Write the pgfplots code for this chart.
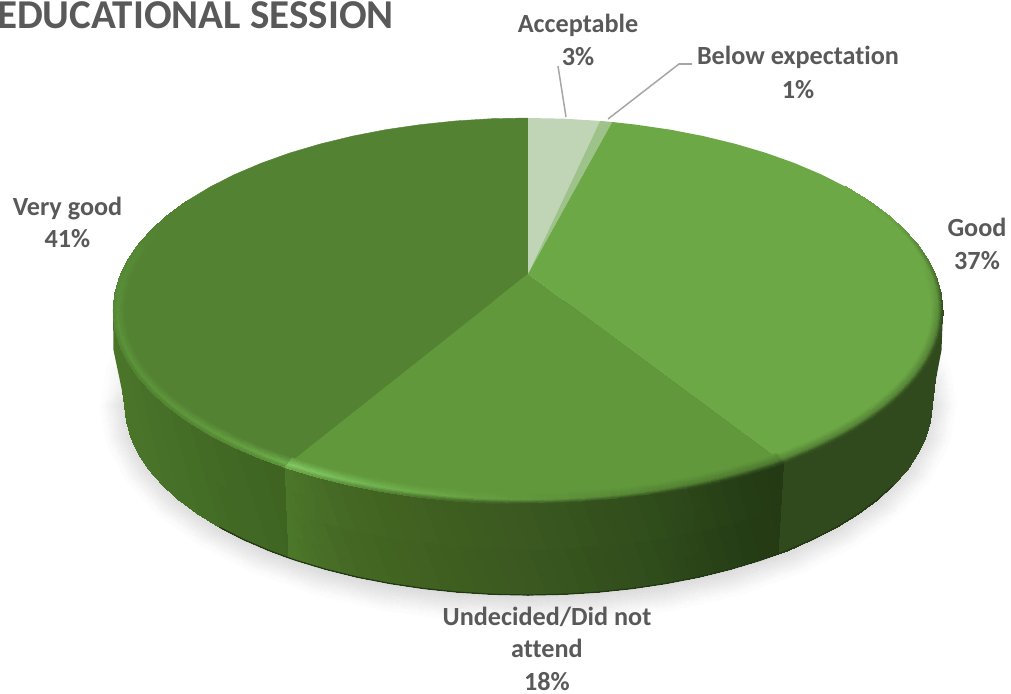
\documentclass[border=0pt]{standalone}
\usepackage{fontspec}
\setmainfont{Carlito}[Ligatures=NoCommon]
\usepackage{pgfplots}
\pgfplotsset{compat=1.18}
\definecolor{LabelGray}{HTML}{595959}
\definecolor{LeaderGray}{HTML}{A6A6A6}
\definecolor{TopGood}{RGB}{109,168,70}
\definecolor{TopUndecided}{RGB}{97,152,60}
\definecolor{TopVeryGood}{RGB}{83,130,50}
\definecolor{TopAcceptable}{RGB}{192,213,181}
\definecolor{TopBelow}{RGB}{157,194,138}
\tikzset{lbl/.style={font=\bfseries\fontsize{26.2}{30}\selectfont,text=LabelGray,inner sep=0pt,anchor=base}}
\pgfplotsset{band/.style={surf,shader=interp,mesh/color input=explicit}}

% picture is laid out in reference pixels, shares are 3 1 37 18 41 percent
\begin{document}
\begin{tikzpicture}
\useasboundingbox (0,0) rectangle (1011pt,693pt);
\clip (0,0) rectangle (1011pt,693pt);
\begin{axis}[
  at={(0,0)},anchor=south west,
  scale only axis,width=1011pt,height=693pt,
  xmin=0,xmax=1011,ymin=0,ymax=693,y dir=reverse,
  axis lines=none,clip=false
]
% soft shadow
\addplot[band,mesh/rows=2] table[meta=c]{
x y c
870.1 312 rgb255=255,255,255
899.2 341.4 rgb255=242,242,242
917 372.7 rgb255=228,228,228
923 405 rgb255=212,212,212
917 437.3 rgb255=212,212,212
899.2 468.6 rgb255=212,212,212
870.1 498 rgb255=212,212,212
830.6 524.6 rgb255=212,212,212
781.9 547.5 rgb255=212,212,212
725.5 566.1 rgb255=212,212,212
663.1 579.8 rgb255=212,212,212
596.6 588.2 rgb255=212,212,212
528 591 rgb255=212,212,212
459.4 588.2 rgb255=212,212,212
392.9 579.8 rgb255=212,212,212
330.5 566.1 rgb255=212,212,212
274.1 547.5 rgb255=212,212,212
225.4 524.6 rgb255=212,212,212
185.9 498 rgb255=212,212,212
156.8 468.6 rgb255=212,212,212
139 437.3 rgb255=212,212,212
133 405 rgb255=212,212,212
139 372.7 rgb255=228,228,228
156.8 341.4 rgb255=242,242,242
185.9 312 rgb255=255,255,255
898.7 296 rgb255=255,255,255
930.2 330.4 rgb255=255,255,255
949.5 367.1 rgb255=255,255,255
956 405 rgb255=255,255,255
949.5 442.9 rgb255=255,255,255
930.2 479.6 rgb255=255,255,255
898.7 514 rgb255=255,255,255
855.9 545.1 rgb255=255,255,255
803.1 572 rgb255=255,255,255
742 593.8 rgb255=255,255,255
674.4 609.9 rgb255=255,255,255
602.3 619.7 rgb255=255,255,255
528 623 rgb255=255,255,255
453.7 619.7 rgb255=255,255,255
381.6 609.9 rgb255=255,255,255
314 593.8 rgb255=255,255,255
252.9 572 rgb255=255,255,255
200.1 545.1 rgb255=255,255,255
157.3 514 rgb255=255,255,255
125.8 479.6 rgb255=255,255,255
106.5 442.9 rgb255=255,255,255
100 405 rgb255=255,255,255
106.5 367.1 rgb255=255,255,255
125.8 330.4 rgb255=255,255,255
157.3 296 rgb255=255,255,255
};
% backing under the wall, closes the seams between the meshes
\addplot[fill={rgb,255:red,58;green,88;blue,32},draw=none] coordinates {
(923,300)(923,405)(917,437.3)(899.2,468.6)(870.1,498)(830.6,524.6)(781.9,547.5)(725.5,566.1)(663.1,579.8)(596.6,588.2)(528,591)(459.4,588.2)(392.9,579.8)(330.5,566.1)(274.1,547.5)(225.4,524.6)(185.9,498)(156.8,468.6)(139,437.3)(133,405)(133,300)};
% corner gussets of the side wall
\addplot[fill={rgb,255:red,48;green,73;blue,29},draw=none] coordinates {(943,311)(941.5,350)(931,405)(900,405)};
\addplot[fill={rgb,255:red,74;green,117;blue,41},draw=none] coordinates {(113,311)(113.5,350)(125,405)(160,405)};
% side wall, Good
\addplot[band,mesh/rows=2] table[meta=c]{
x y c
943 311 rgb255=48,73,29
941.4 327.8 rgb255=48,73,29
936.7 344.5 rgb255=48,73,29
928.8 361 rgb255=48,73,29
918 377 rgb255=48,73,29
904.1 392.6 rgb255=48,73,29
887.4 407.5 rgb255=48,73,29
868 421.7 rgb255=48,73,29
845.9 435.1 rgb255=48,73,29
821.4 447.5 rgb255=48,73,29
794.8 458.8 rgb255=48,73,29
783.5 463.1 rgb255=48,73,29
931 405 rgb255=48,73,29
929.5 421.6 rgb255=48,73,29
924.9 438 rgb255=48,73,29
917.3 454.2 rgb255=48,73,29
906.7 470 rgb255=48,73,29
893.2 485.3 rgb255=48,73,29
877 500 rgb255=48,73,29
858.1 514 rgb255=48,73,29
836.7 527.1 rgb255=48,73,29
813 539.3 rgb255=48,73,29
787 550.5 rgb255=48,73,29
778 554 rgb255=48,73,29
};
% side wall, Undecided
\addplot[band,mesh/rows=2] table[meta=c]{
x y c
783.5 463.1 rgb255=35,58,20
766 469.1 rgb255=36,59,20
735.5 478.1 rgb255=39,63,22
703.4 485.9 rgb255=42,68,24
669.9 492.4 rgb255=46,74,27
635.4 497.4 rgb255=49,78,28
600 501.1 rgb255=52,81,29
564.2 503.3 rgb255=55,85,30
528 504 rgb255=58,88,32
491.8 503.3 rgb255=60,91,32
456 501.1 rgb255=62,94,32
420.6 497.4 rgb255=64,97,33
386.1 492.4 rgb255=66,100,33
352.6 485.9 rgb255=68,104,36
320.5 478.1 rgb255=71,109,38
290 469.1 rgb255=75,117,41
284.1 467.1 rgb255=76,119,42
778 554 rgb255=35,58,20
759.2 560.6 rgb255=36,59,20
729.5 569.5 rgb255=39,63,22
698.3 577.2 rgb255=42,68,24
665.8 583.5 rgb255=46,74,27
632.3 588.5 rgb255=49,78,28
598 592.1 rgb255=52,81,29
563.1 594.3 rgb255=55,85,30
528 595 rgb255=58,88,32
492.9 594.3 rgb255=60,91,32
458 592.1 rgb255=62,94,32
423.7 588.5 rgb255=64,97,33
390.2 583.5 rgb255=66,100,33
357.7 577.2 rgb255=68,104,36
326.5 569.5 rgb255=71,109,38
296.8 560.6 rgb255=75,117,41
288 557.6 rgb255=76,119,42
};
% side wall, Very good
\addplot[band,mesh/rows=2] table[meta=c]{
x y c
284.1 467.1 rgb255=63,100,34
261.2 458.8 rgb255=64,102,35
234.6 447.5 rgb255=65,104,36
210.1 435.1 rgb255=67,107,37
188 421.7 rgb255=68,109,38
168.6 407.5 rgb255=70,111,39
151.9 392.6 rgb255=71,113,40
138 377 rgb255=72,115,40
127.2 361 rgb255=73,116,41
119.3 344.5 rgb255=74,117,41
114.6 327.8 rgb255=74,117,41
113 311 rgb255=74,117,41
288 557.6 rgb255=63,100,34
269 550.5 rgb255=64,102,35
243 539.3 rgb255=65,104,36
219.3 527.1 rgb255=67,107,37
197.9 514 rgb255=68,109,38
179 500 rgb255=70,111,39
162.8 485.3 rgb255=71,113,40
149.3 470 rgb255=72,115,40
138.7 454.2 rgb255=73,116,41
131.1 438 rgb255=74,117,41
126.5 421.6 rgb255=74,117,41
125 405 rgb255=74,117,41
};
% dark foot of the wall
\addplot[draw={rgb,255:red,34;green,56;blue,20},line width=1.2pt] coordinates {
(893.2,485.3)(877,500)(858.1,514)(836.7,527.1)(813,539.3)(787,550.5)(778,554)(759.2,560.6)(729.5,569.5)(698.3,577.2)(665.8,583.5)(632.3,588.5)(598,592.1)(563.1,594.3)(528,595)(492.9,594.3)(458,592.1)(423.7,588.5)(390.2,583.5)(357.7,577.2)(326.5,569.5)(296.8,560.6)(288,557.6)(269,550.5)(243,539.3)(219.3,527.1)};
% top faces
\addplot[fill=TopVeryGood,draw=TopVeryGood,line width=.4pt] coordinates {
(528,274)(284.1,467.1)(261.2,458.8)(234.6,447.5)(210.1,435.1)(188,421.7)(168.6,407.5)(151.9,392.6)(138,377)(127.2,361)(119.3,344.5)(114.6,327.8)(113,311)(114.6,294.2)(119.3,277.5)(127.2,261)(138,245)(151.9,229.4)(168.6,214.5)(188,200.3)(210.1,186.9)(234.6,174.5)(261.2,163.2)(290,152.9)(320.5,143.9)(352.6,136.1)(386.1,129.6)(420.6,124.6)(456,120.9)(491.8,118.7)(528,118)};
\addplot[fill=TopAcceptable,draw=none] coordinates {
(528,274)(528,118)(564.2,118.7)(600,120.9)};
\addplot[fill=TopBelow,draw=none] coordinates {
(528,274)(600,120.9)(612.2,122)};
\addplot[fill=TopGood,draw=none] coordinates {
(528,274)(612.2,122)(635.4,124.6)(669.9,129.6)(703.4,136.1)(735.5,143.9)(766,152.9)(794.8,163.2)(821.4,174.5)(845.9,186.9)(868,200.3)(887.4,214.5)(904.1,229.4)(918,245)(928.8,261)(936.7,277.5)(941.4,294.2)(943,311)(941.4,327.8)(936.7,344.5)(928.8,361)(918,377)(904.1,392.6)(887.4,407.5)(868,421.7)(845.9,435.1)(821.4,447.5)(794.8,458.8)(783.5,463.1)};
\addplot[fill=TopUndecided,draw=none] coordinates {
(528,274)(783.5,463.1)(766,469.1)(735.5,478.1)(703.4,485.9)(669.9,492.4)(635.4,497.4)(600,501.1)(564.2,503.3)(528,504)(491.8,503.3)(456,501.1)(420.6,497.4)(386.1,492.4)(352.6,485.9)(320.5,478.1)(290,469.1)(284.1,467.1)};
% rim, Good
\addplot[band,mesh/rows=3] table[meta=c]{
x y c
836.7 194.7 rgb255=109,168,70
858.1 207.2 rgb255=109,168,70
877 220.5 rgb255=109,168,70
893.2 234.5 rgb255=109,168,70
906.7 249.1 rgb255=109,168,70
917.3 264.2 rgb255=109,168,70
924.9 279.6 rgb255=109,168,70
929.5 295.2 rgb255=109,168,70
931 311 rgb255=109,168,70
929.5 326.8 rgb255=109,168,70
924.9 342.4 rgb255=109,168,70
917.3 357.8 rgb255=109,168,70
906.7 372.9 rgb255=109,168,70
893.2 387.5 rgb255=109,168,70
877 401.5 rgb255=109,168,70
858.1 414.8 rgb255=109,168,70
836.7 427.3 rgb255=109,168,70
813 439 rgb255=109,168,70
787 449.6 rgb255=109,168,70
776.1 453.6 rgb255=109,168,70
842.8 189.5 rgb255=109,168,70
864.7 202.6 rgb255=109,168,70
883.9 216.5 rgb255=109,168,70
900.5 231.1 rgb255=109,168,70
914.2 246.4 rgb255=109,168,70
925 262.1 rgb255=106,163,68
932.8 278.2 rgb255=100,155,64
937.4 294.5 rgb255=95,148,60
939 311 rgb255=90,140,58
937.4 327.5 rgb255=86,134,55
932.8 343.8 rgb255=85,132,54
925 359.9 rgb255=85,132,54
914.2 375.6 rgb255=85,132,54
900.5 390.9 rgb255=85,132,54
883.9 405.5 rgb255=85,132,54
864.7 419.4 rgb255=85,132,54
842.8 432.5 rgb255=85,132,54
818.6 444.6 rgb255=85,132,54
792.2 455.8 rgb255=85,132,54
781.1 459.9 rgb255=85,132,54
845.9 186.9 rgb255=107,165,69
868 200.3 rgb255=105,162,68
887.4 214.5 rgb255=102,158,66
904.1 229.4 rgb255=97,150,62
918 245 rgb255=90,138,57
928.8 261 rgb255=82,126,52
936.7 277.5 rgb255=72,112,46
941.4 294.2 rgb255=60,92,37
943 311 rgb255=50,76,30
941.4 327.8 rgb255=50,76,30
936.7 344.5 rgb255=50,76,30
928.8 361 rgb255=50,76,30
918 377 rgb255=50,76,30
904.1 392.6 rgb255=50,76,30
887.4 407.5 rgb255=50,76,30
868 421.7 rgb255=50,76,30
845.9 435.1 rgb255=50,76,30
821.4 447.5 rgb255=50,76,30
794.8 458.8 rgb255=50,76,30
783.5 463.1 rgb255=50,76,30
};
% rim, Undecided
\addplot[band,mesh/rows=3] table[meta=c]{
x y c
776.1 453.6 rgb255=97,152,60
759.2 459.3 rgb255=97,152,60
729.5 467.7 rgb255=97,152,60
698.3 475 rgb255=97,152,60
665.8 481.1 rgb255=97,152,60
632.3 485.8 rgb255=97,152,60
598 489.3 rgb255=97,152,60
563.1 491.3 rgb255=97,152,60
528 492 rgb255=97,152,60
492.9 491.3 rgb255=97,152,60
458 489.3 rgb255=97,152,60
423.7 485.8 rgb255=97,152,60
390.2 481.1 rgb255=97,152,60
357.7 475 rgb255=97,152,60
326.5 467.7 rgb255=97,152,60
296.8 459.3 rgb255=97,152,60
291.1 457.4 rgb255=97,152,60
781.1 459.9 rgb255=78,122,48
763.7 465.8 rgb255=78,122,48
733.5 474.7 rgb255=80,125,49
701.7 482.3 rgb255=82,128,50
668.6 488.6 rgb255=84,131,51
634.4 493.6 rgb255=87,136,53
599.3 497.1 rgb255=90,140,55
563.8 499.3 rgb255=93,146,58
528 500 rgb255=97,152,62
492.2 499.3 rgb255=101,158,65
456.7 497.1 rgb255=105,165,68
421.6 493.6 rgb255=108,171,73
387.4 488.6 rgb255=112,178,78
354.3 482.3 rgb255=118,186,86
322.5 474.7 rgb255=125,195,95
292.3 465.8 rgb255=130,200,100
286.4 463.9 rgb255=130,200,100
783.5 463.1 rgb255=42,68,25
766 469.1 rgb255=42,68,25
735.5 478.1 rgb255=42,68,25
703.4 485.9 rgb255=44,70,26
669.9 492.4 rgb255=46,73,27
635.4 497.4 rgb255=48,75,28
600 501.1 rgb255=50,78,30
564.2 503.3 rgb255=54,83,32
528 504 rgb255=58,88,34
491.8 503.3 rgb255=64,96,37
456 501.1 rgb255=70,105,40
420.6 497.4 rgb255=77,117,46
386.1 492.4 rgb255=85,130,52
352.6 485.9 rgb255=92,142,58
320.5 478.1 rgb255=100,155,65
290 469.1 rgb255=108,168,74
284.1 467.1 rgb255=110,170,75
};
% rim, Very good
\addplot[band,mesh/rows=3] table[meta=c]{
x y c
291.1 457.4 rgb255=83,130,50
269 449.6 rgb255=83,130,50
243 439 rgb255=83,130,50
219.3 427.3 rgb255=83,130,50
197.9 414.8 rgb255=83,130,50
179 401.5 rgb255=83,130,50
162.8 387.5 rgb255=83,130,50
149.3 372.9 rgb255=83,130,50
138.7 357.8 rgb255=83,130,50
131.1 342.4 rgb255=83,130,50
126.5 326.8 rgb255=83,130,50
125 311 rgb255=83,130,50
126.5 295.2 rgb255=83,130,50
131.1 279.6 rgb255=83,130,50
138.7 264.2 rgb255=83,130,50
149.3 249.1 rgb255=83,130,50
162.8 234.5 rgb255=83,130,50
179 220.5 rgb255=83,130,50
197.9 207.2 rgb255=83,130,50
286.4 463.9 rgb255=110,175,75
263.8 455.8 rgb255=106,168,70
237.4 444.6 rgb255=100,160,65
213.2 432.5 rgb255=98,156,63
191.3 419.4 rgb255=96,153,61
172.1 405.5 rgb255=95,150,60
155.5 390.9 rgb255=94,149,59
141.8 375.6 rgb255=93,148,59
131 359.9 rgb255=92,148,58
123.2 343.8 rgb255=91,147,58
118.6 327.5 rgb255=91,146,57
117 311 rgb255=90,145,57
118.6 294.5 rgb255=89,143,56
123.2 278.2 rgb255=88,140,55
131 262.1 rgb255=87,138,54
141.8 246.4 rgb255=85,135,52
155.5 231.1 rgb255=84,132,51
172.1 216.5 rgb255=83,130,50
191.3 202.6 rgb255=83,130,50
284.1 467.1 rgb255=90,145,60
261.2 458.8 rgb255=88,140,56
234.6 447.5 rgb255=85,135,52
210.1 435.1 rgb255=83,133,50
188 421.7 rgb255=82,131,49
168.6 407.5 rgb255=80,130,48
151.9 392.6 rgb255=80,130,48
138 377 rgb255=80,130,48
127.2 361 rgb255=80,130,48
119.3 344.5 rgb255=82,132,50
114.6 327.8 rgb255=84,134,51
113 311 rgb255=85,135,52
114.6 294.2 rgb255=85,135,52
119.3 277.5 rgb255=85,135,52
127.2 261 rgb255=85,134,51
138 245 rgb255=84,132,50
151.9 229.4 rgb255=84,131,50
168.6 214.5 rgb255=83,130,50
188 200.3 rgb255=83,130,50
};
% leader lines
\addplot[draw=LeaderGray,line width=1.5pt] coordinates {(558,66)(566,117)};
\addplot[draw=LeaderGray,line width=1.5pt] coordinates {(692,64)(679,64)(608,119)};
% labels, placed on their baselines
\node[lbl] at (axis cs:578,33) {Acceptable};
\node[lbl] at (axis cs:578,66) {3\%};
\node[lbl] at (axis cs:798,64) {Below expectation};
\node[lbl] at (axis cs:798,98) {1\%};
\node[lbl] at (axis cs:977,236) {Good};
\node[lbl] at (axis cs:977,269) {37\%};
\node[lbl] at (axis cs:67.5,215) {Very good};
\node[lbl] at (axis cs:67.5,247) {41\%};
\node[lbl] at (axis cs:547,625) {Undecided/Did not};
\node[lbl] at (axis cs:547,657) {attend};
\node[lbl] at (axis cs:547,690) {18\%};
\node[font=\bfseries\fontsize{41}{46}\selectfont,text=LabelGray,inner sep=0pt,anchor=base east] at (axis cs:394,29) {EDUCATIONAL SESSION};
\end{axis}
\end{tikzpicture}
\end{document}
